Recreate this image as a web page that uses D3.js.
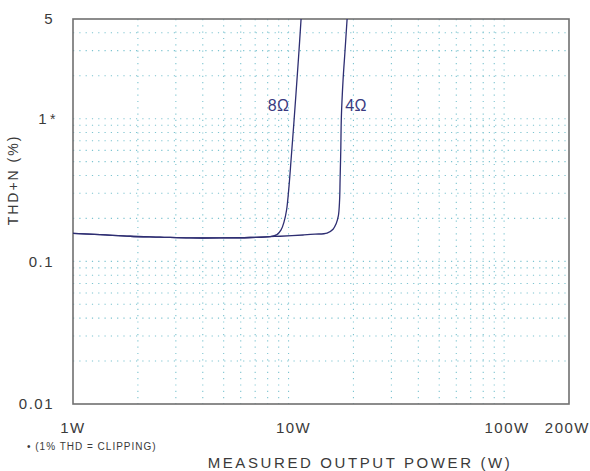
<!DOCTYPE html>
<html><head><meta charset="utf-8">
<script src="https://cdn.jsdelivr.net/npm/d3@7"></script>
<style>body{margin:0;background:#fff}svg text{font-family:"Liberation Sans",Arial,sans-serif;fill:#3a3a3a}</style>
</head><body><svg id="c" width="590" height="471"></svg>
<script>
// Data (power in W, THD+N in %)
const power8 = [1.00,1.335,1.84,2.53,3.49,4.81,6.63,8.21,8.84,9.23,9.53,9.79,10.05,10.27,10.55,10.83,11.13,11.43];
const thd8   = [0.157,0.154,0.150,0.148,0.146,0.146,0.147,0.149,0.154,0.166,0.189,0.229,0.337,0.513,0.875,1.51,2.71,5.0];
const power4 = [1.00,1.335,1.84,2.53,3.49,4.81,6.63,8.21,9.14,11.68,13.27,15.09,16.09,16.61,17.02,17.25,17.34,17.47,17.58,17.90,18.29,18.69];
const thd4   = [0.157,0.154,0.150,0.148,0.146,0.146,0.147,0.149,0.150,0.153,0.155,0.158,0.168,0.183,0.208,0.269,0.372,0.603,1.03,1.87,3.03,5.0];
const xTicks = [1,10,100,200];
const xTickLabels = ["1W","10W","100W","200W"];
const yTicks = [5,1,0.1,0.01];
const yTickLabels = ["5","1","0.1","0.01"];
const xGrid = [2,3,4,5,6,7,8,9,10,20,30,40,50,60,70,80,90,100];
const yGrid = [0.02,0.03,0.04,0.05,0.06,0.07,0.08,0.09,0.1,0.2,0.3,0.4,0.5,0.6,0.7,0.8,0.9,1,2,3,4];

const L=73,R=569,T=19,B=404;
const svg=d3.select("#c");
const x=d3.scaleLog().domain([1,200]).range([L,R]);
const y=d3.scaleLog().domain([0.01,5]).range([B,T]);

const g=svg.append("g");
g.selectAll(".hg").data(yGrid).join("line")
 .attr("x1",L).attr("x2",R).attr("y1",d=>y(d)).attr("y2",d=>y(d))
 .attr("stroke","#7cc4d0").attr("stroke-width",1.1).attr("stroke-dasharray","1.2,5.1");
g.selectAll(".vg").data(xGrid).join("line")
 .attr("x1",d=>x(d)).attr("x2",d=>x(d)).attr("y1",T).attr("y2",B)
 .attr("stroke","#7cc4d0").attr("stroke-width",1.1).attr("stroke-dasharray","1.2,5.1");

svg.append("rect").attr("x",L).attr("y",T).attr("width",R-L).attr("height",B-T)
 .attr("fill","none").attr("stroke","#707070").attr("stroke-width",1.6);

const lineX=d3.line().x(d=>x(d[0])).y(d=>y(d[1])).curve(d3.curveCatmullRom.alpha(0.5));
svg.append("path").datum(d3.zip(power4,thd4)).attr("d",lineX)
 .attr("fill","none").attr("stroke","#2e2e72").attr("stroke-width",1.3);
svg.append("path").datum(d3.zip(power8,thd8)).attr("d",lineX)
 .attr("fill","none").attr("stroke","#2e2e72").attr("stroke-width",1.3);

svg.append("text").attr("x",x(8.0)).attr("y",y(1.13)).text("8Ω")
 .style("fill","#3a3a80").attr("font-size",16).attr("letter-spacing",0.5);
svg.append("text").attr("x",x(18.3)).attr("y",y(1.13)).text("4Ω")
 .style("fill","#3a3a80").attr("font-size",16).attr("letter-spacing",0.5);

// y tick labels
yTicks.forEach((v,i)=>{
  const t=svg.append("text").attr("x",54).attr("y",y(v)).attr("dy","0.35em")
   .attr("text-anchor","end").attr("font-size",15).attr("letter-spacing",1.5);
  if(v===1){ t.attr("x",57); t.append("tspan").text(yTickLabels[i]); t.append("tspan").attr("font-size",14).attr("dx",2).text("*"); }
  else t.text(yTickLabels[i]);
});
// x tick labels
xTicks.forEach((v,i)=>{
  const t=svg.append("text").attr("x",x(v)).attr("y",433)
   .attr("text-anchor",v===200?"end":"middle").attr("font-size",15).attr("letter-spacing",1.5)
   .text(xTickLabels[i]);
  if(v===200) t.attr("x",x(v)+21);
  if(v===10) t.attr("dx",5);
  if(v===100) t.attr("dx",3);
});

svg.append("text").attr("x",27).attr("y",450).attr("font-size",10).attr("letter-spacing",1)
 .text("• (1% THD = CLIPPING)");
svg.append("text").attr("x",360).attr("y",468).attr("text-anchor","middle")
 .attr("font-size",15).attr("letter-spacing",2.6).text("MEASURED OUTPUT POWER (W)");
svg.append("text").attr("transform","translate(18,180) rotate(-90)").attr("text-anchor","middle")
 .attr("font-size",14).attr("letter-spacing",2).text("THD+N (%)");
</script></body></html>
